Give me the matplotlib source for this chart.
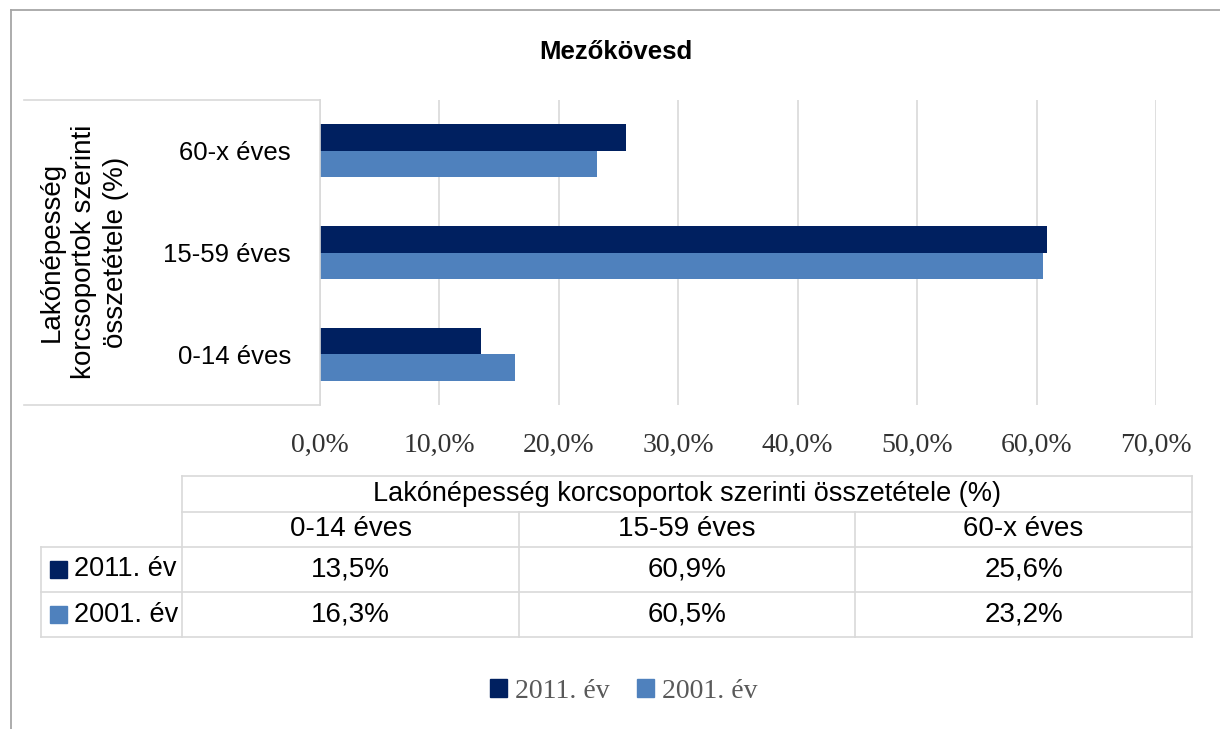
import matplotlib.pyplot as plt
from matplotlib.lines import Line2D
from matplotlib.patches import Rectangle

categories = ["0-14 éves", "15-59 éves", "60-x éves"]
series = ["2011. év", "2001. év"]
v2011 = [13.5, 60.9, 25.6]
v2001 = [16.3, 60.5, 23.2]
xticks = [0, 10, 20, 30, 40, 50, 60, 70]

DARK = "#002060"
LIGHT = "#4f81bd"
GRID = "#d9d9d9"
SANS = "Liberation Sans"
SERIF = "Liberation Serif"

W, H = 1220, 729
fig = plt.figure(figsize=(W / 100, H / 100), dpi=100)


def fx(px):
    return px / W


def fy(py):
    return 1 - py / H


def hline(y, x0, x1, color=GRID, lw=1.2):
    fig.add_artist(Line2D([fx(x0), fx(x1)], [fy(y), fy(y)], color=color, lw=lw))


def vline(x, y0, y1, color=GRID, lw=1.2):
    fig.add_artist(Line2D([fx(x), fx(x)], [fy(y0), fy(y1)], color=color, lw=lw))


# chart border (only top and left visible)
hline(10, 11, W + 5, color="#a6a6a6", lw=1.3)
vline(11, 10, H + 5, color="#a6a6a6", lw=1.3)

# bar chart
ax = fig.add_axes([fx(320), fy(405), fx(1156) - fx(320), fy(100) - fy(405)])
h = 0.262
ypos = list(range(len(categories)))
ax.barh([y + h / 2 for y in ypos], v2011, height=h, color=DARK)
ax.barh([y - h / 2 for y in ypos], v2001, height=h, color=LIGHT)
ax.set_xlim(0, 70)
ax.set_ylim(-0.5, 2.5)
ax.set_xticks(xticks)
ax.set_xticklabels([f"{t:.1f}%".replace(".", ",") for t in xticks],
                   family=SERIF, fontsize=20, color="#333333")
ax.set_yticks(ypos)
ax.set_yticklabels(categories, family=SANS, fontsize=18.5, color="black")
ax.tick_params(axis="x", length=0, pad=20)
ax.tick_params(axis="y", length=0, pad=21)
ax.grid(axis="x", color=GRID, lw=1.2)
ax.set_axisbelow(True)
for s in ["top", "right", "bottom"]:
    ax.spines[s].set_visible(False)
ax.spines["left"].set_color(GRID)
ax.spines["left"].set_linewidth(1.2)

# box around category labels
hline(100, 24, 320)
hline(405, 24, 320)

fig.text(fx(84), fy(252), "Lakónépesség\nkorcsoportok szerinti\nösszetétele (%)",
         rotation=90, ha="center", va="center", family=SANS, fontsize=20,
         linespacing=1.3)

fig.text(fx(616), fy(52), "Mezőkövesd", ha="center", va="center",
         family=SANS, fontsize=18.5, weight="bold")

# data table
cols = [182, 519, 855, 1192]
rows = [476, 512, 547, 592, 637]
hline(rows[0], cols[0], cols[-1])
hline(rows[1], cols[0], cols[-1])
hline(rows[2], 41, cols[-1])
hline(rows[3], 41, cols[-1])
hline(rows[4], 41, cols[-1])
vline(41, rows[2], rows[4])
vline(cols[0], rows[0], rows[4])
vline(cols[-1], rows[0], rows[4])
for c in cols[1:-1]:
    vline(c, rows[1], rows[4])

fig.text(fx((cols[0] + cols[-1]) / 2), fy((rows[0] + rows[1]) / 2),
         "Lakónépesség korcsoportok szerinti összetétele (%)",
         ha="center", va="center", family=SANS, fontsize=19.5)
for i, cat in enumerate(categories):
    cx = fx((cols[i] + cols[i + 1]) / 2)
    fig.text(cx, fy((rows[1] + rows[2]) / 2), cat, ha="center", va="center",
             family=SANS, fontsize=20)
    for j, vals in enumerate([v2011, v2001]):
        fig.text(cx, fy((rows[2 + j] + rows[3 + j]) / 2),
                 f"{vals[i]:.1f}%".replace(".", ","), ha="center", va="center",
                 family=SANS, fontsize=20)
for j, (name, col) in enumerate(zip(series, [DARK, LIGHT])):
    yc = (rows[2 + j] + rows[3 + j]) / 2
    fig.add_artist(Rectangle((fx(50), fy(yc + 8)), fx(17), fy(0) - fy(17),
                             color=col, transform=fig.transFigure))
    fig.text(fx(74), fy(yc), name, ha="left", va="center", family=SANS,
             fontsize=19.5)

# legend
handles = [Rectangle((0, 0), 1, 1, color=DARK), Rectangle((0, 0), 1, 1, color=LIGHT)]
fig.legend(handles, series, loc="center", bbox_to_anchor=(fx(624), fy(691)),
           ncol=2, frameon=False, prop={"family": SERIF, "size": 20},
           labelcolor="#595959", handlelength=0.6, handleheight=0.6,
           handletextpad=0.3, columnspacing=1.0)

fig.savefig("out.png", dpi=100)
